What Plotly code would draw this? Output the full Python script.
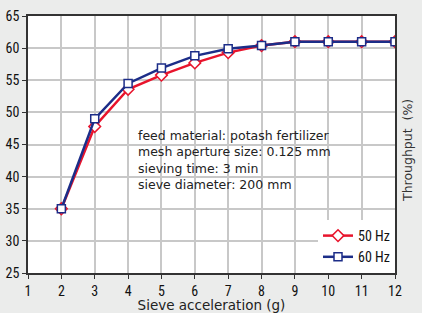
import plotly.graph_objects as go

accel = [2, 3, 4, 5, 6, 7, 8, 9, 10, 11, 12]
hz50 = [35, 47.8, 53.6, 55.8, 57.7, 59.3, 60.4, 61, 61, 61, 61]
hz60 = [35, 49.0, 54.5, 56.9, 58.8, 59.9, 60.4, 61, 61, 61, 61]
x_ticks = list(range(1, 13))
y_ticks = list(range(25, 66, 5))
info_lines = ["feed material: potash fertilizer", "mesh aperture size: 0.125 mm",
              "sieving time: 3 min", "sieve diameter: 200 mm"]

RED = "#e8142c"
BLUE = "#1c2d88"
TICKFONT = "Liberation Sans Narrow, Roboto Condensed, DejaVu Sans Condensed, sans-serif"
TEXTFONT = "DejaVu Sans, Verdana, sans-serif"

fig = go.Figure()
fig.add_trace(go.Scatter(x=accel, y=hz50, name="50 Hz", mode="lines+markers",
                         line=dict(color=RED, width=2.5),
                         marker=dict(symbol="diamond", size=9, color="white",
                                     line=dict(color=RED, width=1.5))))
fig.add_trace(go.Scatter(x=accel, y=hz60, name="60 Hz", mode="lines+markers",
                         line=dict(color=BLUE, width=2.5),
                         marker=dict(symbol="square", size=8, color="white",
                                     line=dict(color=BLUE, width=1.5))))

# white info box
fig.add_shape(type="rect", x0=4.05, x1=10.1, y0=35.9, y1=49.7, xref="x", yref="y",
              fillcolor="white", line=dict(width=0), layer="below")
fig.add_annotation(x=4.25, y=47.9, xref="x", yref="y", xanchor="left", yanchor="top",
                   text="<br>".join(info_lines), showarrow=False, align="left",
                   font=dict(family=TEXTFONT, size=12.5, color="#222"))

fig.add_annotation(x=1.0, y=0.5, xref="paper", yref="paper", xshift=3, yshift=-6,
                   text="Throughput  (%)", textangle=-90, showarrow=False,
                   xanchor="left", yanchor="middle",
                   font=dict(family=TEXTFONT, size=12.5, color="#333"))

fig.update_layout(
    width=422, height=313,
    margin=dict(l=28, r=27, t=16, b=40, autoexpand=False),
    paper_bgcolor="#ebeceb", plot_bgcolor="white",
    showlegend=True,
    legend=dict(x=1, y=0, xanchor="right", yanchor="bottom", bgcolor="white",
                borderwidth=0, font=dict(family=TICKFONT, size=14, color="#111"),
                itemwidth=30, tracegroupgap=4),
    xaxis=dict(range=[1, 12], tickvals=x_ticks, showgrid=True, gridcolor="#c8c8c8",
               gridwidth=1.5, showline=True, linecolor="#333", linewidth=1.5, mirror=True,
               ticks="outside", ticklen=4, tickcolor="#333", automargin=False,
               tickfont=dict(family=TICKFONT, size=14, color="#111"),
               title=dict(text="Sieve acceleration (g)", standoff=9,
                          font=dict(family=TEXTFONT, size=13.5, color="#222")),
               zeroline=False),
    yaxis=dict(range=[25, 65], tickvals=y_ticks, showgrid=True, gridcolor="#c8c8c8",
               gridwidth=1.5, showline=True, linecolor="#333", linewidth=1.5, mirror=True,
               ticks="outside", ticklen=4, tickcolor="#333", automargin=False,
               tickfont=dict(family=TICKFONT, size=14, color="#111"),
               zeroline=False),
)

fig.write_html("out.html", config={"displayModeBar": False},
               post_script="document.body.style.margin='0px';")
